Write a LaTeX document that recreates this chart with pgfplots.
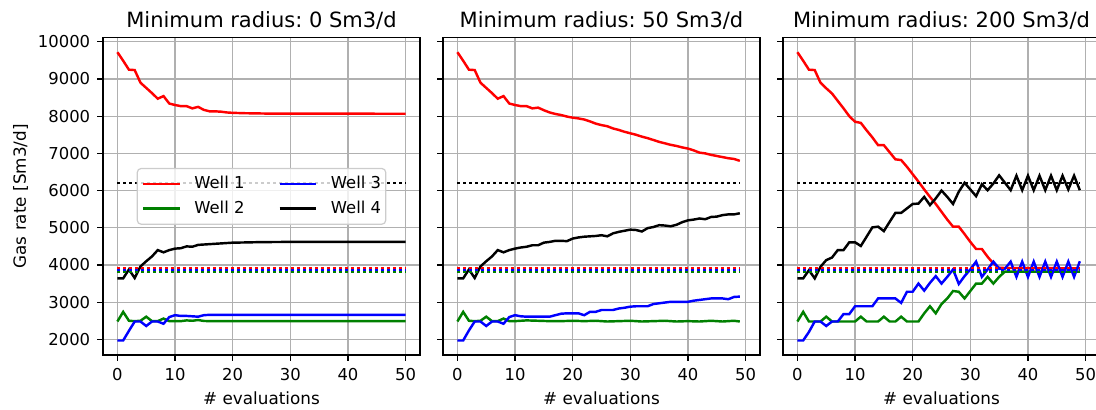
\documentclass[border=0pt]{standalone}
\usepackage{fontspec}
\setmainfont{DejaVu Sans}
\usepackage{pgfplots}
\pgfplotsset{compat=1.18}

\definecolor{mplgreen}{rgb}{0,0.5,0}
\definecolor{gridgray}{HTML}{B0B0B0}

\pgfplotsset{
  wellaxis/.style={
    scale only axis, width=158.5pt, height=158.65pt,
    anchor=south west,
    xmin=-2.5, xmax=52.5, ymin=1580, ymax=10110,
    xtick={0,10,...,50}, ytick={2000,3000,...,10000},
    grid=major, major grid style={gridgray, line width=0.65pt},
    axis line style={line width=0.65pt},
    tick align=outside, tick pos=left, major tick length=2.9pt,
    every tick/.style={black, line width=0.65pt},
    tick label style={font=\fontsize{8.2}{9}\selectfont},
    /pgf/number format/assume math mode=true,
    /pgf/number format/1000 sep={},
    scaled ticks=false,
    xlabel={\# evaluations},
    xlabel style={font=\fontsize{8.4}{9}\selectfont, at={(axis description cs:0.5,0)}, anchor=base, yshift=-25pt},
    every axis title/.style={font=\fontsize{10.5}{12}\selectfont, at={(axis description cs:0.5,1)}, anchor=base, yshift=4.9pt},
  },
  w1/.style={red, line width=1.22pt},
  w2/.style={mplgreen, line width=1.22pt},
  w3/.style={blue, line width=1.22pt},
  w4/.style={black, line width=1.22pt},
  lim/.style={line width=1.2pt, dash pattern=on 1.2pt off 1.8pt, forget plot},
}

\begin{document}
\frenchspacing
\begin{tikzpicture}

% ---- panel 1
\begin{axis}[wellaxis, at={(51.5pt,27.5pt)},
  title={Minimum radius: 0 Sm3/d},
  ylabel={Gas rate [Sm3/d]},
  every axis y label/.style={font=\fontsize{8.4}{9}\selectfont, at={(axis description cs:-0.2603,0.5)}, anchor=center, rotate=90},
  legend columns=2, transpose legend, legend cell align=left,
  legend image code/.code={\draw[#1] (0pt,0pt) -- (18.3pt,0pt);},
  legend style={at={(0.5,0.5)}, anchor=center,
    draw=black!20, line width=0.6pt, rounded corners=2pt,
    fill=white, fill opacity=0.8, text opacity=1,
    font=\fontsize{8.2}{9}\selectfont,
    inner xsep=2.35pt, inner ysep=4.2pt, row sep=5.1pt,
    nodes={inner sep=0pt, text height=6pt, text depth=1.2pt},
    /tikz/every odd column/.append style={column sep=6.7pt},
    /tikz/every even column/.append style={column sep=17pt}},
]
\addplot[w1] coordinates {(0,9720)(1,9490)(2,9250)(3,9240)(4,8900)(5,8760)(6,8620)(7,8470)(8,8540)(9,8340)(10,8300)(11,8270)(12,8270)(13,8210)(14,8250)(15,8170)(16,8130)(17,8130)(18,8120)(19,8100)(20,8090)(21,8085)(22,8080)(24,8075)(26,8070)(50,8065)};
\addlegendentry{Well 1}
\addplot[w2] coordinates {(0,2480)(1,2740)(2,2500)(3,2490)(4,2500)(5,2610)(6,2490)(7,2490)(8,2560)(9,2490)(10,2490)(11,2490)(12,2510)(13,2500)(14,2520)(15,2495)(16,2490)(50,2490)};
\addlegendentry{Well 2}
\addplot[w3] coordinates {(0,1970)(1,1970)(2,2230)(3,2480)(4,2480)(5,2360)(6,2480)(7,2480)(8,2420)(9,2600)(10,2650)(11,2630)(12,2630)(13,2620)(14,2610)(15,2650)(16,2660)(50,2660)};
\addlegendentry{Well 3}
\addplot[w4] coordinates {(0,3640)(1,3640)(2,3880)(3,3650)(4,3960)(5,4100)(6,4230)(7,4400)(8,4340)(9,4400)(10,4440)(11,4450)(12,4500)(13,4490)(14,4540)(15,4550)(16,4560)(17,4570)(18,4580)(19,4590)(20,4600)(22,4605)(25,4615)(30,4620)(50,4620)};
\addlegendentry{Well 4}
\addplot[lim, mplgreen] coordinates {(0,3820)(50,3820)};
\addplot[lim, blue] coordinates {(0,3865)(50,3865)};
\addplot[lim, red] coordinates {(0,3925)(50,3925)};
\addplot[lim, black] coordinates {(0,6200)(50,6200)};
\end{axis}

% ---- panel 2
\begin{axis}[wellaxis, at={(221.5pt,27.5pt)},
  title={Minimum radius: 50 Sm3/d}, yticklabels={},
]
\addplot[w1] coordinates {(0,9720)(1,9490)(2,9250)(3,9240)(4,8900)(5,8760)(6,8620)(7,8470)(8,8540)(9,8340)(10,8300)(11,8270)(12,8270)(13,8210)(14,8230)(15,8160)(16,8100)(17,8060)(18,8030)(19,7990)(20,7960)(21,7940)(22,7910)(23,7860)(24,7800)(25,7760)(26,7730)(27,7670)(28,7630)(29,7580)(30,7540)(31,7500)(32,7450)(33,7410)(34,7360)(35,7310)(36,7270)(37,7230)(38,7200)(39,7160)(40,7130)(41,7080)(42,7020)(43,7000)(44,6960)(45,6930)(46,6900)(47,6870)(48,6850)(49,6800)};
\addplot[w2] coordinates {(0,2480)(1,2740)(2,2500)(3,2490)(4,2500)(5,2610)(6,2490)(7,2490)(8,2560)(9,2490)(10,2490)(12,2510)(14,2500)(16,2490)(18,2490)(20,2500)(22,2490)(24,2500)(26,2480)(28,2490)(30,2500)(32,2480)(34,2490)(36,2500)(38,2480)(40,2490)(42,2480)(44,2500)(46,2480)(48,2500)(49,2480)};
\addplot[w3] coordinates {(0,1970)(1,1970)(2,2240)(3,2480)(4,2480)(5,2360)(6,2480)(7,2480)(8,2420)(9,2600)(10,2650)(11,2620)(12,2610)(13,2610)(14,2610)(15,2610)(16,2610)(17,2650)(18,2690)(19,2700)(20,2700)(21,2700)(22,2650)(23,2740)(24,2740)(25,2790)(26,2790)(27,2790)(28,2830)(29,2850)(30,2880)(31,2890)(32,2890)(33,2890)(34,2950)(35,2970)(36,2990)(37,3010)(38,3010)(39,3010)(40,3010)(41,3040)(42,3060)(43,3080)(44,3100)(45,3100)(46,3100)(47,3080)(48,3140)(49,3150)};
\addplot[w4] coordinates {(0,3640)(1,3640)(2,3880)(3,3650)(4,3960)(5,4100)(6,4230)(7,4400)(8,4340)(9,4400)(10,4440)(11,4470)(12,4490)(13,4530)(14,4530)(15,4600)(16,4620)(17,4650)(18,4650)(19,4640)(20,4710)(21,4740)(22,4760)(23,4770)(24,4780)(25,4800)(26,4770)(27,4850)(28,4890)(29,4920)(30,4950)(31,4940)(32,4900)(33,4990)(34,5020)(35,5070)(36,5060)(37,5040)(38,5080)(39,5150)(40,5200)(41,5220)(42,5250)(43,5230)(44,5290)(45,5300)(46,5340)(47,5360)(48,5360)(49,5390)};
\addplot[lim, mplgreen] coordinates {(0,3820)(49,3820)};
\addplot[lim, blue] coordinates {(0,3865)(49,3865)};
\addplot[lim, red] coordinates {(0,3925)(49,3925)};
\addplot[lim, black] coordinates {(0,6200)(49,6200)};
\end{axis}

% ---- panel 3
\begin{axis}[wellaxis, at={(391.5pt,27.5pt)},
  title={Minimum radius: 200 Sm3/d}, yticklabels={},
]
\addplot[w1] coordinates {(0,9720)(1,9490)(2,9250)(3,9240)(4,8900)(5,8750)(6,8610)(7,8410)(8,8210)(9,8000)(10,7850)(11,7820)(12,7620)(13,7430)(14,7220)(15,7220)(16,7030)(17,6840)(18,6820)(19,6640)(20,6440)(21,6240)(22,6030)(23,5830)(24,5640)(25,5430)(26,5220)(27,5030)(28,5030)(29,4830)(30,4620)(31,4430)(32,4430)(33,4220)(34,4040)(35,3920)(49,3910)};
\addplot[w2] coordinates {(0,2480)(1,2740)(2,2480)(3,2480)(4,2480)(5,2610)(6,2480)(7,2480)(8,2480)(9,2480)(10,2480)(11,2610)(12,2480)(13,2480)(14,2480)(15,2610)(16,2480)(17,2480)(18,2610)(19,2480)(20,2480)(21,2480)(22,2700)(23,2890)(24,2700)(25,2950)(26,3100)(27,3300)(28,3280)(29,3100)(30,3300)(31,3500)(32,3500)(33,3680)(34,3500)(35,3680)(36,3820)(49,3820)};
\addplot[w3] coordinates {(0,1970)(1,1970)(2,2200)(3,2480)(4,2480)(5,2360)(6,2480)(7,2480)(8,2680)(9,2680)(10,2890)(11,2890)(12,2890)(13,2890)(14,3100)(15,3100)(16,3100)(17,3100)(18,2980)(19,3280)(20,3280)(21,3500)(22,3310)(23,3520)(24,3700)(25,3500)(26,3680)(27,3880)(28,3490)(29,3700)(30,3880)(31,4090)(32,3680)(33,3880)(34,4090)(35,3900)(36,3900)(37,4090)(38,3680)(39,4090)(40,3680)(41,4090)(42,3680)(43,4090)(44,3680)(45,4090)(46,3680)(47,4090)(48,3680)(49,4100)};
\addplot[w4] coordinates {(0,3640)(1,3640)(2,3860)(3,3640)(4,3950)(5,4130)(6,4200)(7,4400)(8,4400)(9,4610)(10,4610)(11,4510)(12,4760)(13,5010)(14,5030)(15,4910)(16,5160)(17,5400)(18,5400)(19,5520)(20,5640)(21,5650)(22,5830)(23,5610)(24,5790)(25,6000)(26,5830)(27,5640)(28,5970)(29,6210)(30,6030)(31,5850)(32,6170)(33,6010)(34,6190)(35,6410)(36,6210)(37,6010)(38,6400)(39,6010)(40,6400)(41,6010)(42,6400)(43,6010)(44,6400)(45,6010)(46,6400)(47,6030)(48,6400)(49,6010)};
\addplot[lim, mplgreen] coordinates {(0,3820)(49,3820)};
\addplot[lim, blue] coordinates {(0,3865)(49,3865)};
\addplot[lim, red] coordinates {(0,3925)(49,3925)};
\addplot[lim, black] coordinates {(0,6200)(49,6200)};
\end{axis}

\pgfresetboundingbox
\path (0pt,0pt) rectangle (548pt,205pt);
\end{tikzpicture}
\end{document}
